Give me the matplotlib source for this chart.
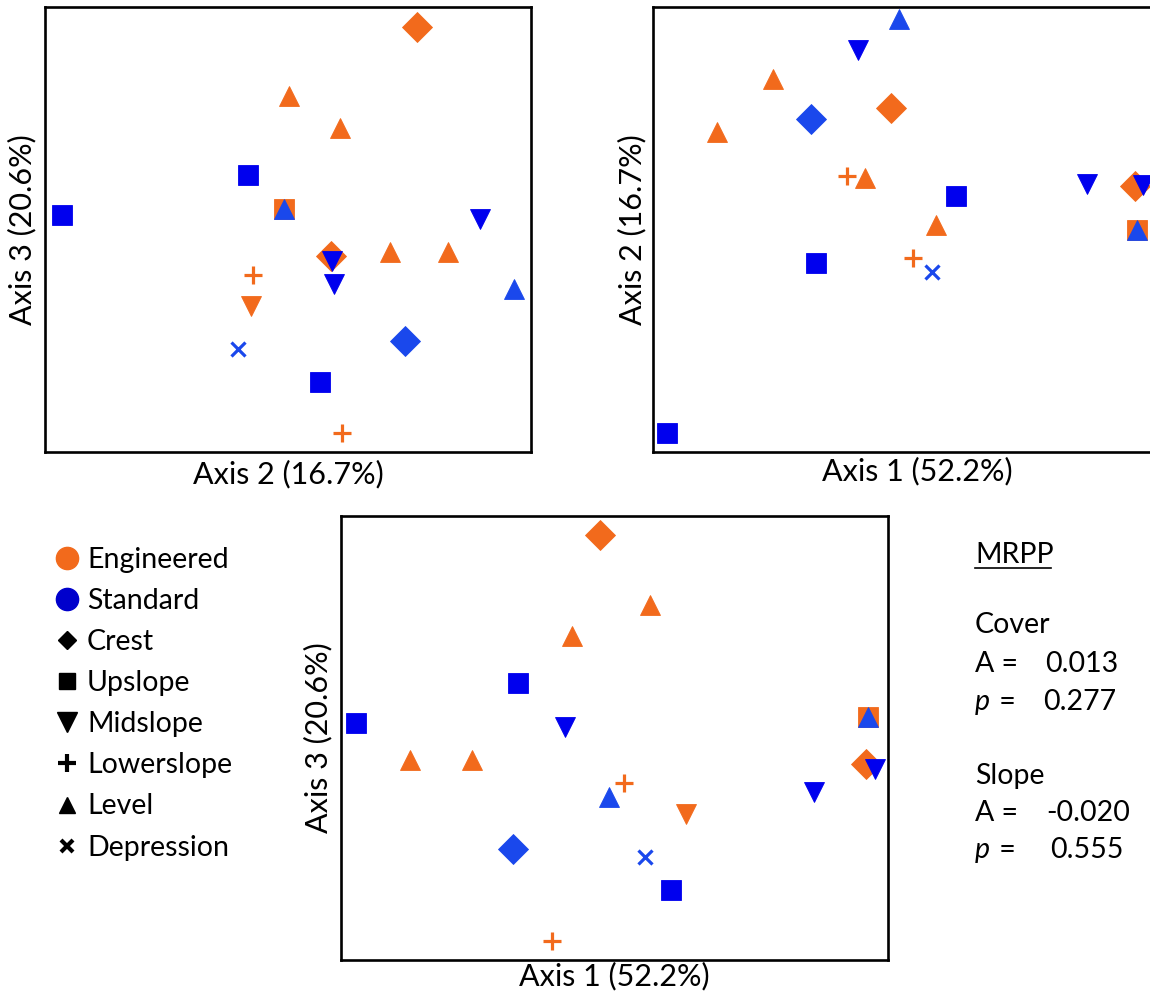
import matplotlib.pyplot as plt
from matplotlib.lines import Line2D

plt.rcParams['font.family'] = ['Lato', 'DejaVu Sans']

# NMS ordination scores, one entry per plot
group = ['Engineered'] * 10 + ['Standard'] * 10
position = ['Crest', 'Crest', 'Upslope', 'Midslope', 'Lowerslope', 'Lowerslope',
            'Level', 'Level', 'Level', 'Level',
            'Crest', 'Upslope', 'Upslope', 'Upslope', 'Midslope', 'Midslope',
            'Midslope', 'Level', 'Level', 'Depression']
axis1 = [0.00, 1.064, 1.072, 0.344, 0.094, -0.192, 0.198, -0.112, -0.76, -0.512,
         -0.35, -0.976, -0.328, 0.282, -0.142, 1.10, 0.856, 1.072, 0.036, 0.18]
axis2 = [0.51, 0.168, -0.022, -0.156, -0.148, 0.212, 0.0, 0.204, 0.404, 0.636,
         0.464, -0.912, -0.166, 0.124, 0.764, 0.172, 0.178, -0.022, 0.9, -0.206]
axis3 = [0.82, -0.096, 0.094, -0.294, -0.172, -0.804, 0.542, 0.416, -0.08, -0.08,
         -0.436, 0.07, 0.23, -0.598, 0.054, -0.116, -0.208, 0.094, -0.226, -0.466]
# the engineered midslope plot does not appear in the Axis 1 / Axis 2 panel
in_axis12 = [True, True, True, False] + [True] * 16

axis_labels = ['Axis 1 (52.2%)', 'Axis 2 (16.7%)', 'Axis 3 (20.6%)']

mrpp_cover = ('0.013', '0.277')
mrpp_slope = ('-0.020', '0.555')

ORANGE = '#f26a1c'
BLUE = '#0000ee'
LIGHT_BLUE = '#1a48ec'

markers = {'Crest': 'D', 'Upslope': 's', 'Midslope': 'v', 'Lowerslope': '+',
           'Level': '^', 'Depression': 'x'}
sizes = {'Crest': 15, 'Upslope': 14.5, 'Midslope': 14.5, 'Lowerslope': 13.5,
         'Level': 14.5, 'Depression': 10}

W, H = 1150, 998
fig = plt.figure(figsize=(11.5, 9.98), dpi=100)


def point_color(g, p):
    if g == 'Engineered':
        return ORANGE
    if p in ('Crest', 'Level', 'Depression'):
        return LIGHT_BLUE
    return BLUE


def panel(box, xs, ys, xlim, ylim, xlabel, ylabel, xlab_y, ylab_x, keep=None):
    # box in pixels: left, top, right, bottom
    l, t, r, b = box
    ax = fig.add_axes([l / W, 1 - b / H, (r - l) / W, (b - t) / H])
    for g in ['Engineered', 'Standard']:
        for i in range(len(xs)):
            if group[i] != g or (keep is not None and not keep[i]):
                continue
            p = position[i]
            c = point_color(g, p)
            ax.plot(xs[i], ys[i], linestyle='none', marker=markers[p],
                    markersize=sizes[p], color=c, markeredgecolor=c,
                    markeredgewidth=2.3 if p in ('Lowerslope', 'Depression') else 0.6)
    ax.set_xlim(xlim)
    ax.set_ylim(ylim)
    ax.set_xticks([])
    ax.set_yticks([])
    for s in ax.spines.values():
        s.set_linewidth(1.9)
        s.set_color('black')
    ax.set_xlabel(xlabel, fontsize=22, va='center', ha='center')
    ax.set_ylabel(ylabel, fontsize=22, va='center', ha='center')
    ax.xaxis.set_label_coords((l + r) / 2 / W, 1 - xlab_y / H, transform=fig.transFigure)
    ax.yaxis.set_label_coords(ylab_x / W, 1 - (t + b) / 2 / H, transform=fig.transFigure)
    return ax


panel((45, 7, 531, 452), axis2, axis3, (-0.98, 0.968), (-0.88, 0.90),
      axis_labels[1], axis_labels[2], 474, 22)
panel((653, 7, 1181, 452), axis1, axis2, (-1.037, 1.264), (-0.995, 0.952),
      axis_labels[0], axis_labels[1], 471, 632, keep=in_axis12)
panel((341, 516, 888, 960), axis1, axis3, (-1.036, 1.152), (-0.88, 0.896),
      axis_labels[0], axis_labels[2], 976, 318)

handles = [
    Line2D([], [], linestyle='none', marker='o', markersize=16, color=ORANGE, label='Engineered'),
    Line2D([], [], linestyle='none', marker='o', markersize=16, color='#0000cc', label='Standard'),
    Line2D([], [], linestyle='none', marker='D', markersize=9, color='black', label='Crest'),
    Line2D([], [], linestyle='none', marker='s', markersize=12, color='black', label='Upslope'),
    Line2D([], [], linestyle='none', marker='v', markersize=14, color='black', label='Midslope'),
    Line2D([], [], linestyle='none', marker='+', markersize=13, markeredgewidth=3,
           color='black', label='Lowerslope'),
    Line2D([], [], linestyle='none', marker='^', markersize=12, color='black', label='Level'),
    Line2D([], [], linestyle='none', marker='x', markersize=9, markeredgewidth=3,
           color='black', label='Depression'),
]
fig.legend(handles=handles, loc='upper left', bbox_to_anchor=(0.031, 1 - 527 / H),
           frameon=False, fontsize=20.5, handlelength=0.8, handletextpad=0.3,
           labelspacing=0.53, borderpad=0.2)


# MRPP results
def ftext(x, y, s, **kw):
    fig.text(x / W, 1 - y / H, s, fontsize=20.5, va='center', ha='left', **kw)


ftext(975, 555, 'MRPP')
fig.add_artist(Line2D([975 / W, 1051 / W], [1 - 568 / H, 1 - 568 / H],
                      color='black', linewidth=1.2))
ftext(975, 625, 'Cover')
ftext(975, 664, 'A =')
ftext(1045, 664, mrpp_cover[0])
ftext(975, 702, 'p', style='italic')
ftext(992, 702, ' =')
ftext(1043, 702, mrpp_cover[1])
ftext(975, 776, 'Slope')
ftext(975, 813, 'A =')
ftext(1046, 813, mrpp_slope[0])
ftext(975, 850, 'p', style='italic')
ftext(992, 850, ' =')
ftext(1050, 850, mrpp_slope[1])

fig.savefig('out.png')
